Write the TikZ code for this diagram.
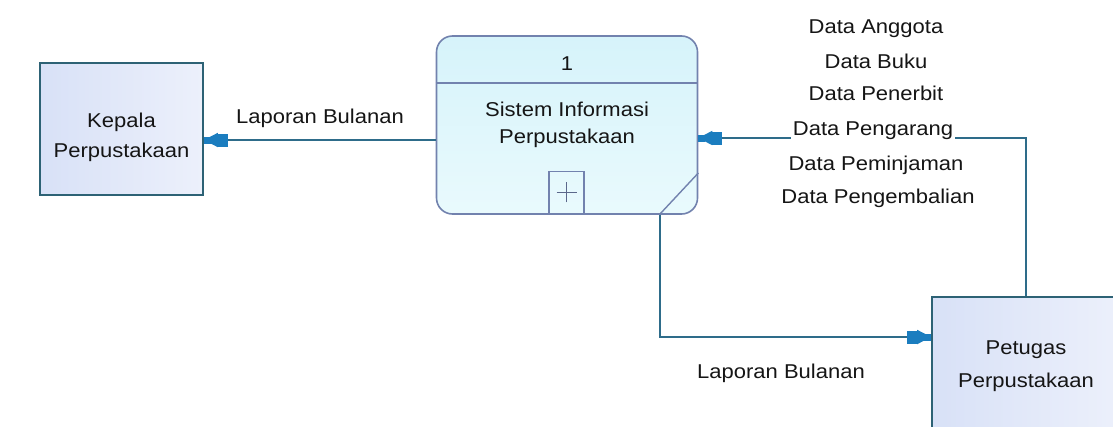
\documentclass[tikz,border=0pt]{standalone}
\usepackage{fontspec}
\setmainfont{Liberation Sans}[FakeStretch=1.1]
\usetikzlibrary{arrows.meta}

\definecolor{extL}{HTML}{D8E1F7}
\definecolor{extR}{HTML}{ECF0FB}
\definecolor{extBorder}{HTML}{2D6275}
\definecolor{procTop}{HTML}{D6F3FA}
\definecolor{procBot}{HTML}{E9FAFD}
\definecolor{procBorder}{HTML}{7282AE}
\definecolor{flowLine}{HTML}{2E6C8A}
\definecolor{flowTip}{HTML}{1B7DBF}
\definecolor{txt}{HTML}{151515}

\tikzset{
  lbl/.style={font=\fontsize{20}{33}\selectfont, text=txt, align=center, inner sep=1pt},
  flowlbl/.style={lbl, anchor=base},
  extent/.style={draw=extBorder, line width=1.8pt, left color=extL, right color=extR,
    minimum width=#1, minimum height=132pt, inner sep=0pt},
  procbox/.style={draw=procBorder, line width=1.6pt, rounded corners=16pt,
    top color=procTop, bottom color=procBot, minimum width=261pt, minimum height=178pt, inner sep=0pt},
  flow/.style={draw=flowLine, line width=1.8pt,
    -{Rectangle[length=10pt,width=13pt,sep=0pt,fill=flowTip,color=flowTip]
      Triangle[length=14pt,width=14pt,sep=-7pt,fill=flowTip,color=flowTip]
      Rectangle[length=7pt,width=7pt,sep=0pt,fill=flowTip,color=flowTip]}},
}

\begin{document}
\begin{tikzpicture}[x=1pt,y=-1pt]
\useasboundingbox (0,0) rectangle (1113,426);
\clip (0,0) rectangle (1113,426);
\fill[white] (0,0) rectangle (1113,426);

% external entities
\node[extent=163pt] (kep) at (121.5,129) {};
\node[lbl, font=\fontsize{20}{30}\selectfont] at (121.5,137) {Kepala\\Perpustakaan};
\node[extent=188pt, minimum height=144pt] (pet) at (1026,369) {};
\node[lbl, font=\fontsize{20}{33}\selectfont] at (1026,366) {Petugas\\Perpustakaan};

% process
\node[procbox] (proc) at (567,125) {};
\draw[procBorder, line width=1.6pt] (proc.west |- 0,83) -- (proc.east |- 0,83);
\node[flowlbl] (pnum) at (567,70) {1};
\node[lbl, font=\fontsize{20}{27}\selectfont] (pname) at (567,125) {Sistem Informasi\\Perpustakaan};
\node[draw=procBorder, line width=1.4pt, minimum width=35pt, minimum height=42pt, inner sep=0pt,
  anchor=south] (sub) at (566.5,214) {};
\draw[procBorder!80!black, line width=1pt] ([xshift=-10pt]sub.center) -- ([xshift=10pt]sub.center)
  ([yshift=-10pt]sub.center) -- ([yshift=10pt]sub.center);
\draw[procBorder, line width=1.4pt] (proc.east |- 0,173) -- (660,214);

% data flows
\draw[flow] (proc.west |- 0,140) -- (kep.east |- 0,140);
\node[flowlbl] (l1) at (320,123) {Laporan Bulanan};

\coordinate (bendA) at (1026,138);
\draw[flow] (pet.north) -- (bendA) -- (proc.east |- bendA);
\node[flowlbl] (d1) at (876,33) {Data Anggota};
\node[flowlbl] (d2) at (876,68) {Data Buku};
\node[flowlbl] (d3) at (876,100) {Data Penerbit};
\node[flowlbl, fill=white, inner sep=2pt] (d4) at (873,135) {Data Pengarang};
\node[flowlbl] (d5) at (876,170) {Data Peminjaman};
\node[flowlbl] (d6) at (878,203) {Data Pengembalian};

\coordinate (bendB) at (660,337);
\draw[flow] (proc.south -| bendB) -- (bendB) -- (pet.west |- bendB);
\node[flowlbl] (l2) at (781,378) {Laporan Bulanan};
\end{tikzpicture}
\end{document}
